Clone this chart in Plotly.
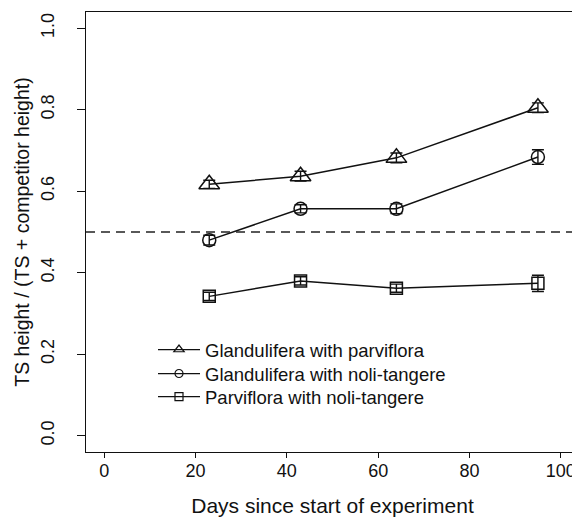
import plotly.graph_objects as go

days = [23, 43, 64, 95]

glan_parv = [0.617, 0.637, 0.682, 0.805]
glan_parv_err = [0.010, 0.012, 0.012, 0.012]

glan_noli = [0.480, 0.557, 0.557, 0.684]
glan_noli_err = [0.012, 0.010, 0.012, 0.018]

parv_noli = [0.342, 0.380, 0.362, 0.374]
parv_noli_err = [0.010, 0.010, 0.010, 0.020]

series_names = ["Glandulifera with parviflora",
                "Glandulifera with noli-tangere",
                "Parviflora with noli-tangere"]
x_ticks = [0, 20, 40, 60, 80, 100]
y_ticks = [0.0, 0.2, 0.4, 0.6, 0.8, 1.0]
reference_level = 0.5

FONT = "Liberation Sans, Arial, Helvetica, sans-serif"
INK = "#111111"

# The page body has an 8 px margin; figure size compensates so the plot fills the window
W, H = 572, 515
L, T, R, B = 78, 4, 1, 71
PW, PH = W - L - R, H - T - B

fig = go.Figure()

specs = [
    (glan_parv, glan_parv_err, "triangle-up-open", 18, 9, series_names[0], "legend"),
    (glan_noli, glan_noli_err, "circle-open", 13, 8, series_names[1], "legend2"),
    (parv_noli, parv_noli_err, "square-open", 12, 8, series_names[2], "legend3"),
]
for vals, errs, sym, sz, legsz, name, leg in specs:
    fig.add_trace(go.Scatter(
        x=days, y=vals, name=name, mode="lines+markers", showlegend=False,
        line=dict(color=INK, width=1.5),
        marker=dict(symbol=sym, size=sz, color=INK, line=dict(width=1.5, color=INK)),
        error_y=dict(type="data", array=errs, visible=True,
                     color=INK, thickness=1.4, width=6),
    ))
for vals, errs, sym, sz, legsz, name, leg in specs:
    # legend entry (smaller symbols, as in the reference legend)
    fig.add_trace(go.Scatter(
        x=[None], y=[None], name=name, mode="lines+markers", showlegend=True,
        legend=leg,
        line=dict(color=INK, width=1.2),
        marker=dict(symbol=sym, size=legsz, color=INK, line=dict(width=1.2, color=INK)),
    ))

fig.add_shape(type="line", xref="paper", yref="y", x0=0, x1=1,
              y0=reference_level, y1=reference_level,
              line=dict(color="#222222", width=1.6, dash="9px,6px"))


def legend_box(top_px):
    return dict(x=(145 - L) / PW, y=(T + PH - top_px) / PH,
                xanchor="left", yanchor="top",
                bgcolor="rgba(0,0,0,0)", borderwidth=0,
                font=dict(size=18.5, family=FONT, color=INK),
                itemwidth=42, itemsizing="trace")


fig.update_layout(
    width=W, height=H,
    margin=dict(l=L, r=R, t=T, b=B),
    paper_bgcolor="white", plot_bgcolor="white",
    font=dict(family=FONT, color=INK, size=18),
    showlegend=True,
    legend=legend_box(323),
    legend2=legend_box(347),
    legend3=legend_box(370),
    xaxis=dict(range=[-4, 104], tickvals=x_ticks,
               ticktext=[str(v) for v in x_ticks],
               showgrid=False, zeroline=False,
               showline=True, linecolor=INK, linewidth=1.4, mirror=True,
               ticks="outside", ticklen=5, tickcolor=INK, tickwidth=1,
               tickfont=dict(size=18), ticklabelstandoff=-3,
               title=dict(text="Days since start of experiment",
                          font=dict(size=21), standoff=18)),
    yaxis=dict(range=[-0.04, 1.04], tickvals=y_ticks,
               ticktext=[f"{v:.1f}" for v in y_ticks],
               showgrid=False, zeroline=False,
               showline=True, linecolor=INK, linewidth=1.4, mirror=True,
               ticks="outside", ticklen=8, tickcolor=INK, tickwidth=1,
               tickangle=-90, tickfont=dict(size=18),
               ticklabelstandoff=16,
               title=dict(text="TS height / (TS + competitor height)",
                          font=dict(size=19.5), standoff=2)),
)

fig.write_html("out.html")
